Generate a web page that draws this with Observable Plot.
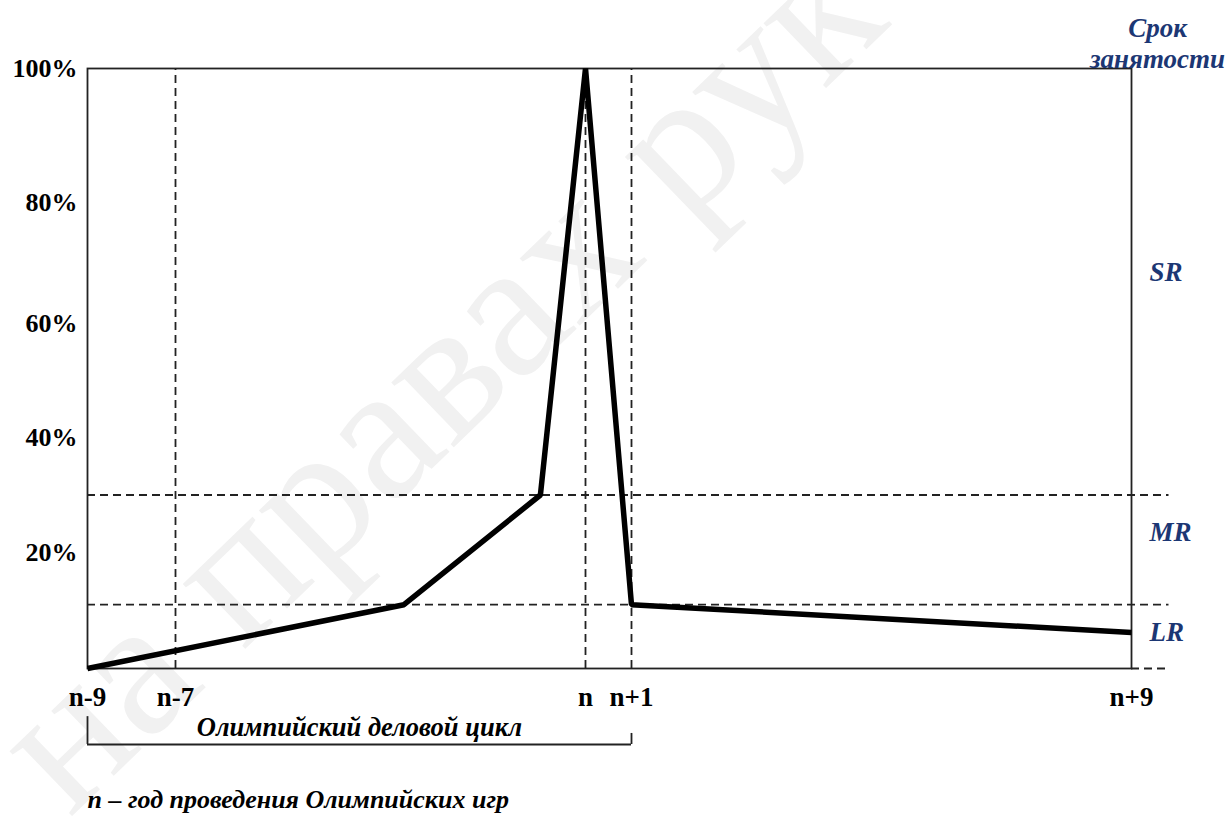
<!DOCTYPE html>
<html>
<head>
<meta charset="utf-8">
<script src="https://cdn.jsdelivr.net/npm/d3@7"></script>
<script src="https://cdn.jsdelivr.net/npm/@observablehq/plot@0.6"></script>
<style>
  html, body { margin: 0; padding: 0; background: #fff; }
  #chart { width: 1227px; height: 825px; overflow: hidden; }
</style>
</head>
<body>
<div id="chart"></div>
<script>
// ---- data ----
const xTicks = [-9, -7, 0, 1, 9];
const xTickLabels = ["n-9", "n-7", "n", "n+1", "n+9"];
const yTicks = [20, 40, 60, 80, 100];
const lineX = [-9, -3.1, -0.77, 0, 1, 9];
const lineY = [0, 11, 30, 100, 11, 6.2];
const guideX = [-7, 0, 1];
const zoneBounds = [30, 11];
const zoneNames = ["SR", "MR", "LR"];
const zoneLabelY = [68.4, 23.5, 6.2];
const cycle = [-9, 1];
const cycleLabel = "Олимпийский деловой цикл";
const rightTitle = "Срок\nзанятости";
const footnote = "n – год проведения Олимпийских игр";
const watermark = "на правах рук";

// ---- schematic (non-uniform) scale configuration ----
const xDomain = [-9, -7, 0, 1, 9];
const xRange = [87, 175, 585, 631, 1131];
const yDomain = [0, 20, 40, 60, 80, 100];
const yRange = [668, 552, 437, 323, 202, 68];
const guideEnd = 9.6;

const lineData = lineX.map((x, i) => ({x, y: lineY[i]}));
const zoneData = zoneNames.map((name, i) => ({name, y: zoneLabelY[i]}));
const blue = "#1c3774";
const serif = "Liberation Serif, Times New Roman, serif";
const dash = "8,5";

const plot = Plot.plot({
  width: 1227,
  height: 825,
  marginLeft: 87,
  marginRight: 96,
  marginTop: 68,
  marginBottom: 157,
  style: {fontFamily: serif, fontSize: "27px", fontWeight: "bold", color: "black", background: "white", overflow: "hidden"},
  x: {type: "linear", domain: xDomain, range: xRange},
  y: {type: "linear", domain: yDomain, range: yRange},
  marks: [
    Plot.text([watermark], {
      frameAnchor: "bottom-left", dx: -18, dy: 150, rotate: -44,
      text: d => d, textAnchor: "start", lineAnchor: "bottom",
      fontSize: 196, fontWeight: "normal", fill: "#f1f1f1"
    }),
    Plot.ruleY(zoneBounds, {x1: xDomain[0], x2: guideEnd, stroke: "#222", strokeWidth: 1.8, strokeDasharray: dash}),
    Plot.ruleY([0], {x1: xDomain[xDomain.length - 1], x2: guideEnd, stroke: "#222", strokeWidth: 1.8, strokeDasharray: dash}),
    Plot.ruleX(guideX, {y1: 0, y2: 100, stroke: "#222", strokeWidth: 1.8, strokeDasharray: dash}),
    Plot.frame({stroke: "#222", strokeWidth: 1.8}),
    Plot.line(lineData, {x: "x", y: "y", stroke: "black", strokeWidth: 5.5, strokeLinejoin: "miter", strokeLinecap: "butt"}),
    Plot.axisY({ticks: yTicks, tickSize: 0, tickPadding: 10, tickFormat: d => d + "%", label: null, fontSize: 26, fontWeight: "bold", fill: "black"}),
    Plot.axisX({ticks: xTicks, tickSize: 0, tickPadding: 18, tickFormat: d => xTickLabels[xTicks.indexOf(d)], label: null, fontSize: 27, fontWeight: "bold", fill: "black"}),
    Plot.text(zoneData, {x: xDomain[xDomain.length - 1], y: "y", text: "name", dx: 18, textAnchor: "start", fill: blue, fontSize: 27, fontStyle: "italic", fontWeight: "bold"}),
    Plot.text([rightTitle], {frameAnchor: "top-right", text: d => d, dx: 26, dy: -26, lineAnchor: "middle", lineHeight: 1.15, textAnchor: "middle", fill: blue, fontSize: 27, fontStyle: "italic", fontWeight: "bold"}),
    // bracket marking the Olympic business cycle
    Plot.ruleY([-13.1], {x1: cycle[0], x2: cycle[1], stroke: "#222", strokeWidth: 1.8}),
    Plot.ruleX([cycle[0]], {y1: -8.3, y2: -13.1, stroke: "#222", strokeWidth: 1.8}),
    Plot.ruleX([cycle[1]], {y1: -11.2, y2: -13.1, stroke: "#222", strokeWidth: 1.8}),
    Plot.text([cycleLabel], {x: cycle[0], y: 0, dx: (xRange[3] - xRange[0]) / 2, dy: 59, text: d => d, textAnchor: "middle", fill: "black", fontSize: 26.5, fontStyle: "italic", fontWeight: "bold"}),
    Plot.text([footnote], {frameAnchor: "bottom-left", dy: 139, text: d => d, textAnchor: "start", fill: "black", fontSize: 26, fontStyle: "italic", fontWeight: "bold"})
  ]
});
document.getElementById("chart").appendChild(plot);
</script>
</body>
</html>
